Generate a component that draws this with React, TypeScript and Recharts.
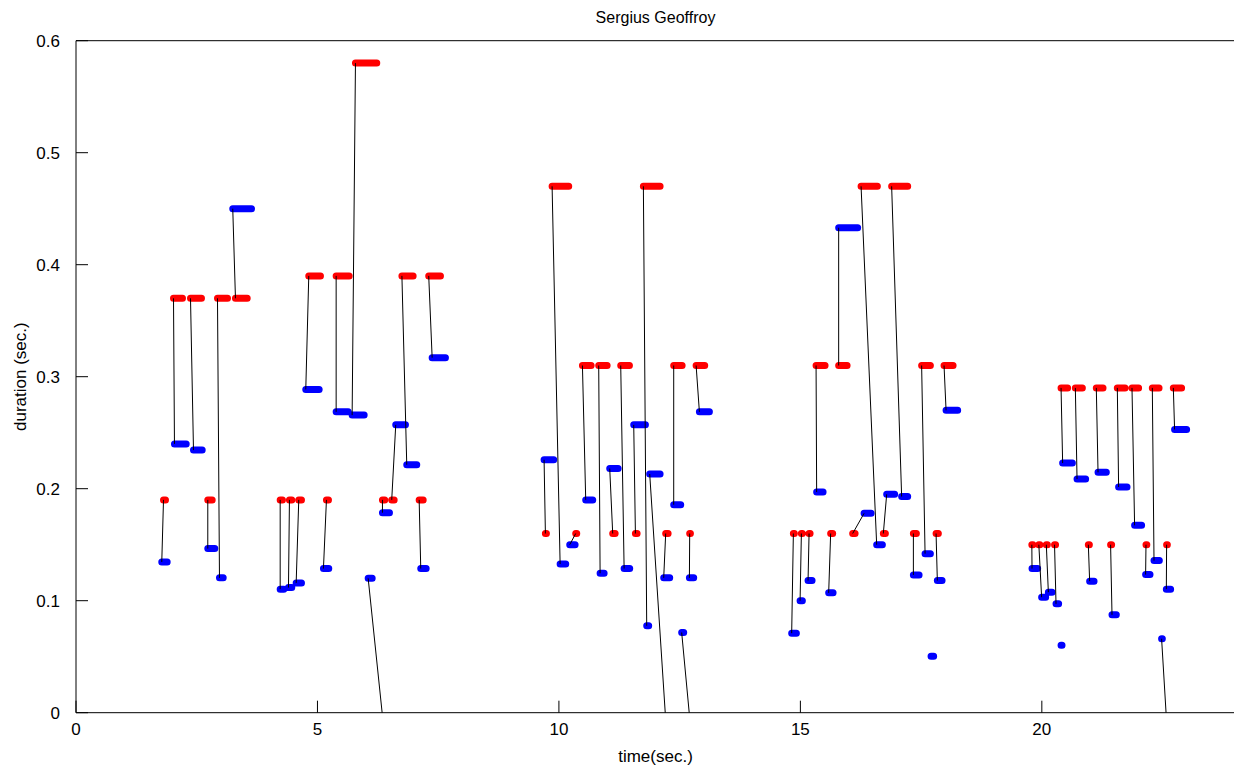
import React from 'react';
import { ComposedChart, Line, XAxis, YAxis } from 'recharts';

const title = 'Sergius Geoffroy';
const xLabel = 'time(sec.)';
const yLabel = 'duration (sec.)';
const xTicks = [0, 5, 10, 15, 20];
const yTicks = [0, 0.1, 0.2, 0.3, 0.4, 0.5, 0.6];

// red (reference) notes: start time, end time, duration value (null = none)
const redStart = [
  1.812, 2.019, 2.371, 2.729, 2.93, 3.302,
  4.228, 4.42, 4.613, 4.82, 5.186, 5.387, 5.787, 6.46, 6.346, 6.538, 6.749, 7.106, 7.304,
  9.72, 9.859, 10.348, 10.487, 10.824, 11.114, 11.28, 11.584, 11.749, 12.277, 12.211, 12.377, 12.807, 12.708, 12.841,
  14.855, 15.021, 15.18, 15.325, 15.627, 15.793, 16.083, 16.257, 16.718, 16.89, 17.34, 17.511, 17.7, 17.81, 17.975,
  19.793, 19.938, 20.093, 20.263, 20.398, 20.4, 20.694, 20.963, 21.128, 21.424, 21.563, 21.867, 22.157, 22.288, 22.642, 22.584, 22.723,
];
const redEnd = [
  1.853, 2.205, 2.598, 2.82, 3.137, 3.545,
  4.275, 4.468, 4.669, 5.062, 5.228, 5.656, 6.228, 6.5, 6.393, 6.588, 6.981, 7.189, 7.547,
  9.741, 10.203, 10.369, 10.667, 10.998, 11.164, 11.46, 11.619, 12.095, 12.31, 12.261, 12.551, 12.84, 12.723, 13.019,
  14.875, 15.041, 15.201, 15.511, 15.669, 15.967, 16.133, 16.594, 16.76, 17.222, 17.402, 17.692, 17.7, 17.857, 18.162,
  19.814, 19.959, 20.114, 20.284, 20.534, 20.4, 20.839, 20.984, 21.267, 21.445, 21.723, 22.004, 22.174, 22.427, 22.67, 22.599, 22.894,
];
const redDur: (number | null)[] = [
  0.19, 0.37, 0.37, 0.19, 0.37, 0.37,
  0.19, 0.19, 0.19, 0.39, 0.19, 0.39, 0.58, -0.05, 0.19, 0.19, 0.39, 0.19, 0.39,
  0.16, 0.47, 0.16, 0.31, 0.31, 0.16, 0.31, 0.16, 0.47, -0.05, 0.16, 0.31, -0.05, 0.16, 0.31,
  0.16, 0.16, 0.16, 0.31, 0.16, 0.31, 0.16, 0.47, 0.16, 0.47, 0.16, 0.31, null, 0.16, 0.31,
  0.15, 0.15, 0.15, 0.15, 0.29, null, 0.29, 0.15, 0.29, 0.15, 0.29, 0.29, 0.15, 0.29, -0.05, 0.15, 0.29,
];

// blue (performed) notes
const blueStart = [
  1.776, 2.039, 2.433, 2.729, 2.971, 3.246,
  4.228, 4.4, 4.559, 4.758, 5.124, 5.387, 5.718, 6.05, 6.346, 6.621, 6.849, 7.139, 7.375,
  9.693, 10.025, 10.224, 10.555, 10.853, 11.052, 11.35, 11.549, 11.818, 11.88, 12.17, 12.377, 12.542, 12.702, 12.909,
  14.82, 14.994, 15.159, 15.337, 15.586, 15.793, 16.319, 16.58, 16.787, 17.097, 17.34, 17.582, 17.706, 17.836, 18.017,
  19.797, 19.996, 20.135, 20.294, 20.431, 20.398, 20.729, 20.99, 21.164, 21.453, 21.59, 21.921, 22.149, 22.323, 22.48, 22.578, 22.749,
];
const blueEnd = [
  1.888, 2.282, 2.613, 2.874, 3.048, 3.634,
  4.302, 4.468, 4.669, 5.035, 5.234, 5.636, 5.967, 6.133, 6.491, 6.822, 7.056, 7.251, 7.65,
  9.892, 10.141, 10.335, 10.7, 10.936, 11.226, 11.466, 11.791, 11.859, 12.095, 12.294, 12.522, 12.584, 12.791, 13.116,
  14.917, 15.041, 15.242, 15.47, 15.677, 16.186, 16.464, 16.698, 16.952, 17.222, 17.458, 17.692, 17.76, 17.934, 18.257,
  19.913, 20.079, 20.211, 20.348, 20.632, 20.418, 20.907, 21.081, 21.335, 21.542, 21.764, 22.066, 22.24, 22.433, 22.495, 22.667, 22.998,
];
const blueDur = [
  0.1346, 0.24, 0.2345, 0.1465, 0.1204, 0.45,
  0.1103, 0.1117, 0.1159, 0.2886, 0.1287, 0.2686, 0.2657, 0.12, 0.1786, 0.257, 0.2214, 0.1287, 0.317,
  0.2258, 0.1328, 0.15, 0.19, 0.1245, 0.218, 0.1287, 0.257, 0.0776, 0.2131, 0.1204, 0.1857, 0.0716, 0.1204, 0.2686,
  0.071, 0.1, 0.118, 0.197, 0.107, 0.433, 0.178, 0.15, 0.195, 0.193, 0.123, 0.142, 0.0505, 0.118, 0.27,
  0.1287, 0.1031, 0.1076, 0.0972, 0.2229, 0.0603, 0.2086, 0.1174, 0.2146, 0.0874, 0.2015, 0.1673, 0.1233, 0.1358, 0.066, 0.1103, 0.2529,
];

type P = { x: number; y: number | null };

function segments(starts: number[], ends: number[], vals: (number | null)[]): P[] {
  const out: P[] = [];
  for (let i = 0; i < starts.length; i++) {
    const v = vals[i];
    if (v == null) continue;
    out.push({ x: starts[i], y: v }, { x: ends[i], y: v }, { x: ends[i], y: null });
  }
  return out;
}

function links(): P[] {
  const out: P[] = [];
  for (let i = 0; i < redStart.length; i++) {
    const r = redDur[i];
    if (r == null) continue;
    out.push({ x: redStart[i], y: r }, { x: blueStart[i], y: blueDur[i] }, { x: blueStart[i], y: null });
  }
  return out;
}

const redData = segments(redStart, redEnd, redDur);
const blueData = segments(blueStart, blueEnd, blueDur);
const linkData = links();

const FONT = '"Liberation Sans", Arial, Helvetica, sans-serif';
const tickStyle = { fill: '#000', fontSize: 17, fontFamily: FONT };

export default function App() {
  return (
    <div style={{ position: 'relative', width: 1234, height: 767, overflow: 'hidden', background: '#fff' }}>
      <style>{'body{margin:0;overflow:hidden;background:#fff}'}</style>
      <div
        style={{
          position: 'absolute',
          left: 455.5,
          width: 400,
          top: 8,
          textAlign: 'center',
          fontFamily: FONT,
          fontSize: 16,
          lineHeight: '20px',
          color: '#000',
        }}
      >
        {title}
      </div>
      <ComposedChart
        width={1240}
        height={767}
        margin={{ top: 39.7, right: 0, bottom: 0, left: 0 }}
        style={{ position: 'absolute', left: 0, top: 0 }}
      >
        <XAxis
          xAxisId="b"
          dataKey="x"
          type="number"
          domain={[0, 24]}
          ticks={xTicks}
          allowDataOverflow
          height={54.3}
          tickSize={-12}
          tickMargin={22}
          tick={tickStyle}
          axisLine={{ stroke: '#000', strokeWidth: 1 }}
          tickLine={{ stroke: '#000', strokeWidth: 1 }}
          interval={0}
          label={{ value: xLabel, position: 'insideBottom', offset: 5, fill: '#000', fontSize: 17, fontFamily: FONT }}
        />
        <XAxis
          xAxisId="t"
          dataKey="x"
          type="number"
          orientation="top"
          domain={[0, 24]}
          ticks={xTicks}
          allowDataOverflow
          height={1}
          tickSize={-12}
          tick={false}
          axisLine={{ stroke: '#000', strokeWidth: 1 }}
          tickLine={{ stroke: '#000', strokeWidth: 1 }}
          interval={0}
        />
        <YAxis
          yAxisId="l"
          type="number"
          domain={[0, 0.6]}
          ticks={yTicks}
          allowDataOverflow
          width={76}
          tickSize={-12}
          tickMargin={28}
          tick={tickStyle}
          axisLine={{ stroke: '#000', strokeWidth: 1 }}
          tickLine={{ stroke: '#000', strokeWidth: 1 }}
          interval={0}
          label={{ value: yLabel, angle: -90, position: 'insideLeft', offset: 20, fill: '#000', fontSize: 17, fontFamily: FONT, style: { textAnchor: 'middle' } }}
        />
        <YAxis
          yAxisId="r"
          type="number"
          orientation="right"
          domain={[0, 0.6]}
          ticks={yTicks}
          allowDataOverflow
          width={5}
          tickSize={-12}
          tick={false}
          axisLine={{ stroke: '#000', strokeWidth: 1 }}
          tickLine={{ stroke: '#000', strokeWidth: 1 }}
          interval={0}
        />
        <Line
          xAxisId="b"
          yAxisId="l"
          data={redData}
          dataKey="y"
          type="linear"
          stroke="#ff0000"
          strokeWidth={7}
          strokeLinecap="round"
          dot={false}
          activeDot={false}
          connectNulls={false}
          isAnimationActive={false}
        />
        <Line
          xAxisId="b"
          yAxisId="l"
          data={blueData}
          dataKey="y"
          type="linear"
          stroke="#0000ff"
          strokeWidth={7}
          strokeLinecap="round"
          dot={false}
          activeDot={false}
          connectNulls={false}
          isAnimationActive={false}
        />
        <Line
          xAxisId="b"
          yAxisId="l"
          data={linkData}
          dataKey="y"
          type="linear"
          stroke="#000"
          strokeWidth={1}
          dot={false}
          activeDot={false}
          connectNulls={false}
          isAnimationActive={false}
        />
      </ComposedChart>
    </div>
  );
}
